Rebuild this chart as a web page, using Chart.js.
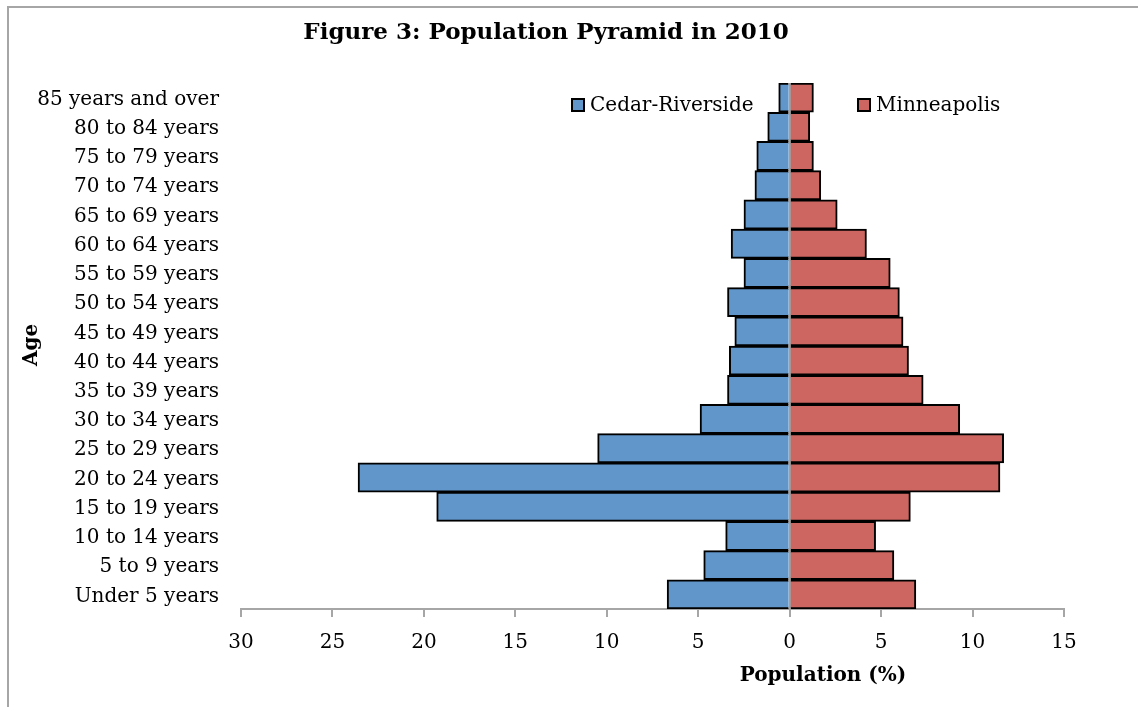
<!DOCTYPE html>
<html>
<head>
<meta charset="utf-8">
<script src="https://cdn.jsdelivr.net/npm/chart.js@4.4.0/dist/chart.umd.min.js"></script>
<style>
  html, body { margin: 0; padding: 0; background: #fff; overflow: hidden; }
  #wrap { position: relative; width: 1138px; height: 707px; overflow: hidden; }
  #frame { position: absolute; left: 7px; top: 6px; width: 1200px; height: 800px; border-top: 2px solid #a6a6a6; border-left: 2px solid #a6a6a6; pointer-events: none; }
  canvas { position: absolute; left: 0; top: 0; }
</style>
</head>
<body>
<div id="wrap">
  <canvas id="pyramid" width="1138" height="707"></canvas>
  <div id="frame"></div>
</div>
<script>
const ageGroups = ['85 years and over', '80 to 84 years', '75 to 79 years', '70 to 74 years',
  '65 to 69 years', '60 to 64 years', '55 to 59 years', '50 to 54 years', '45 to 49 years',
  '40 to 44 years', '35 to 39 years', '30 to 34 years', '25 to 29 years', '20 to 24 years',
  '15 to 19 years', '10 to 14 years', '5 to 9 years', 'Under 5 years'];

// percent of population
const cedarRiverside = [0.6, 1.2, 1.8, 1.9, 2.5, 3.2, 2.5, 3.4, 3.0, 3.3, 3.4, 4.9, 10.5, 23.6, 19.3, 3.5, 4.7, 6.7];
const minneapolis = [1.3, 1.1, 1.3, 1.7, 2.6, 4.2, 5.5, 6.0, 6.2, 6.5, 7.3, 9.3, 11.7, 11.5, 6.6, 4.7, 5.7, 6.9];

const xMin = -30, xMax = 15, xStep = 5;

const serif = "'DejaVu Serif', 'Liberation Serif', serif";

// title, legend + axis titles drawn by hand so they sit where Excel put them
const extras = {
  id: 'extras',
  afterDraw(chart) {
    const ctx = chart.ctx;
    ctx.save();
    ctx.fillStyle = '#000';
    ctx.textBaseline = 'middle';
    ctx.textAlign = 'center';
    ctx.font = 'bold 23px ' + serif;
    ctx.fillText('Figure 3: Population Pyramid in 2010', 546, 33);

    // legend
    const spots = [[572, 99], [858, 99]];
    chart.data.datasets.forEach((ds, i) => {
      const [x, y] = spots[i];
      ctx.fillStyle = ds.backgroundColor;
      ctx.fillRect(x, y, 12, 12);
      ctx.strokeStyle = '#000';
      ctx.lineWidth = 2;
      ctx.strokeRect(x, y, 12, 12);
      ctx.fillStyle = '#000';
      ctx.font = '20px ' + serif;
      ctx.textAlign = 'left';
      ctx.fillText(ds.label, x + 18, y + 7);
    });

    // axis titles
    ctx.font = 'bold 20px ' + serif;
    ctx.textAlign = 'center';
    ctx.fillText('Population (%)', 823, 676);
    ctx.translate(32, 345);
    ctx.rotate(-Math.PI / 2);
    ctx.fillText('Age', 0, 0);
    ctx.restore();
  }
};

new Chart(document.getElementById('pyramid').getContext('2d'), {
  type: 'bar',
  data: {
    labels: ageGroups,
    datasets: [
      { label: 'Cedar-Riverside', data: cedarRiverside.map(v => -v), backgroundColor: '#6096c9', borderColor: '#000', borderWidth: 2 },
      { label: 'Minneapolis', data: minneapolis, backgroundColor: '#cd6660', borderColor: '#000', borderWidth: 2 }
    ]
  },
  options: {
    responsive: false,
    animation: false,
    indexAxis: 'y',
    layout: { padding: { top: 83, right: 74, left: 0, bottom: 0 } },
    datasets: { bar: { barPercentage: 1, categoryPercentage: 1 } },
    scales: {
      x: {
        stacked: true,
        min: xMin,
        max: xMax,
        z: 1,
        afterFit: s => { s.height = 98; },
        ticks: {
          stepSize: xStep,
          padding: 14,
          color: '#000',
          font: { family: serif, size: 20 },
          callback: v => Math.abs(v)
        },
        grid: {
          color: c => c.tick && c.tick.value === 0 ? '#a0a0a0' : 'transparent',
          lineWidth: 2,
          tickColor: '#a6a6a6',
          tickLength: 8
        },
        border: { color: '#a6a6a6', width: 2 }
      },
      y: {
        stacked: true,
        afterFit: s => { s.width = 241; },
        ticks: {
          padding: 22,
          labelOffset: 2,
          color: '#000',
          font: { family: serif, size: 20 },
          autoSkip: false
        },
        grid: { display: false, drawTicks: false },
        border: { display: false }
      }
    },
    plugins: {
      legend: { display: false },
      tooltip: { enabled: false },
      title: { display: false }
    }
  },
  plugins: [extras]
});
</script>
</body>
</html>
